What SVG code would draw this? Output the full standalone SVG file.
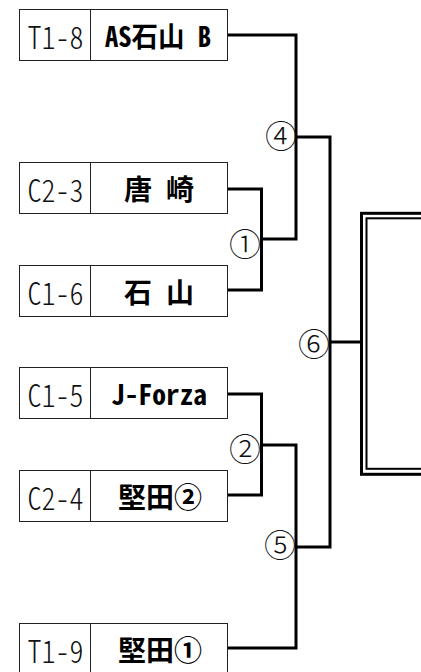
<svg xmlns="http://www.w3.org/2000/svg" width="421" height="672" viewBox="0 0 421 672">
<style>
.box{fill:#fff;stroke:#222;stroke-width:1}
.code{font-family:"Noto Sans CJK JP","DejaVu Sans",sans-serif;font-size:31px;font-weight:300;fill:#111;text-anchor:middle;dominant-baseline:central;font-feature-settings:"hwid"}
.name{font-family:"Noto Sans CJK JP","DejaVu Sans",sans-serif;font-size:28px;font-weight:bold;fill:#000;text-anchor:middle;dominant-baseline:central;font-feature-settings:"hwid"}
.num{font-family:"Noto Sans CJK JP","DejaVu Sans",sans-serif;font-size:32px;font-weight:300;fill:#111;text-anchor:middle;dominant-baseline:central}
.ln{fill:none;stroke:#000;stroke-width:3;stroke-linejoin:miter;stroke-linecap:butt}
.dbl{fill:none;stroke:#000}
</style>
<rect width="421" height="672" fill="#fff"/>
<g id="team-T1-8">
<rect class="box" x="19.5" y="9.5" width="208" height="51"/>
<line class="box" x1="90.5" y1="9.5" x2="90.5" y2="60.5"/>
<text class="code" x="55.5" y="35" textLength="56" lengthAdjust="spacingAndGlyphs">T1-8</text>
<text class="name" x="158" y="35" textLength="106" lengthAdjust="spacingAndGlyphs">AS石山 B</text>
</g>
<g id="team-C2-3">
<rect class="box" x="19.5" y="162.5" width="208" height="51"/>
<line class="box" x1="90.5" y1="162.5" x2="90.5" y2="213.5"/>
<text class="code" x="55.5" y="188" textLength="56" lengthAdjust="spacingAndGlyphs">C2-3</text>
<text class="name" x="159" y="188">唐 崎</text>
</g>
<g id="team-C1-6">
<rect class="box" x="19.5" y="265.5" width="208" height="51"/>
<line class="box" x1="90.5" y1="265.5" x2="90.5" y2="316.5"/>
<text class="code" x="55.5" y="291" textLength="56" lengthAdjust="spacingAndGlyphs">C1-6</text>
<text class="name" x="159" y="291">石 山</text>
</g>
<g id="team-C1-5">
<rect class="box" x="19.5" y="367.5" width="208" height="51"/>
<line class="box" x1="90.5" y1="367.5" x2="90.5" y2="418.5"/>
<text class="code" x="55.5" y="393" textLength="56" lengthAdjust="spacingAndGlyphs">C1-5</text>
<text class="name" x="159" y="393" textLength="96" lengthAdjust="spacingAndGlyphs">J-Forza</text>
</g>
<g id="team-C2-4">
<rect class="box" x="19.5" y="470.5" width="208" height="51"/>
<line class="box" x1="90.5" y1="470.5" x2="90.5" y2="521.5"/>
<text class="code" x="55.5" y="496" textLength="56" lengthAdjust="spacingAndGlyphs">C2-4</text>
<text class="name" x="160" y="496">堅田②</text>
</g>
<g id="team-T1-9">
<rect class="box" x="19.5" y="623.5" width="208" height="51"/>
<line class="box" x1="90.5" y1="623.5" x2="90.5" y2="674.5"/>
<text class="code" x="55.5" y="649" textLength="56" lengthAdjust="spacingAndGlyphs">T1-9</text>
<text class="name" x="160" y="649">堅田①</text>
</g>
<g id="final-box">
<rect class="dbl" x="361.5" y="213.3" width="80" height="261" stroke-width="3"/>
<rect class="dbl" x="366.5" y="218.3" width="80" height="250.5" stroke-width="2"/>
</g>
<g id="connectors">
<path class="ln" d="M228,189 H261.5 V290 H228"/>
<path class="ln" d="M261.5,239 H296 V35 H228"/>
<path class="ln" d="M228,394 H261.5 V495 H228"/>
<path class="ln" d="M261.5,445 H296 V648 H228"/>
<path class="ln" d="M296,137 H330 V547 H296"/>
<path class="ln" d="M330,342 H361.5"/>
</g>
<g id="match-labels">
<text class="num" x="245" y="242">①</text>
<text class="num" x="245" y="447">②</text>
<text class="num" x="281" y="134">④</text>
<text class="num" x="280" y="543">⑤</text>
<text class="num" x="314" y="342">⑥</text>
</g>
</svg>
